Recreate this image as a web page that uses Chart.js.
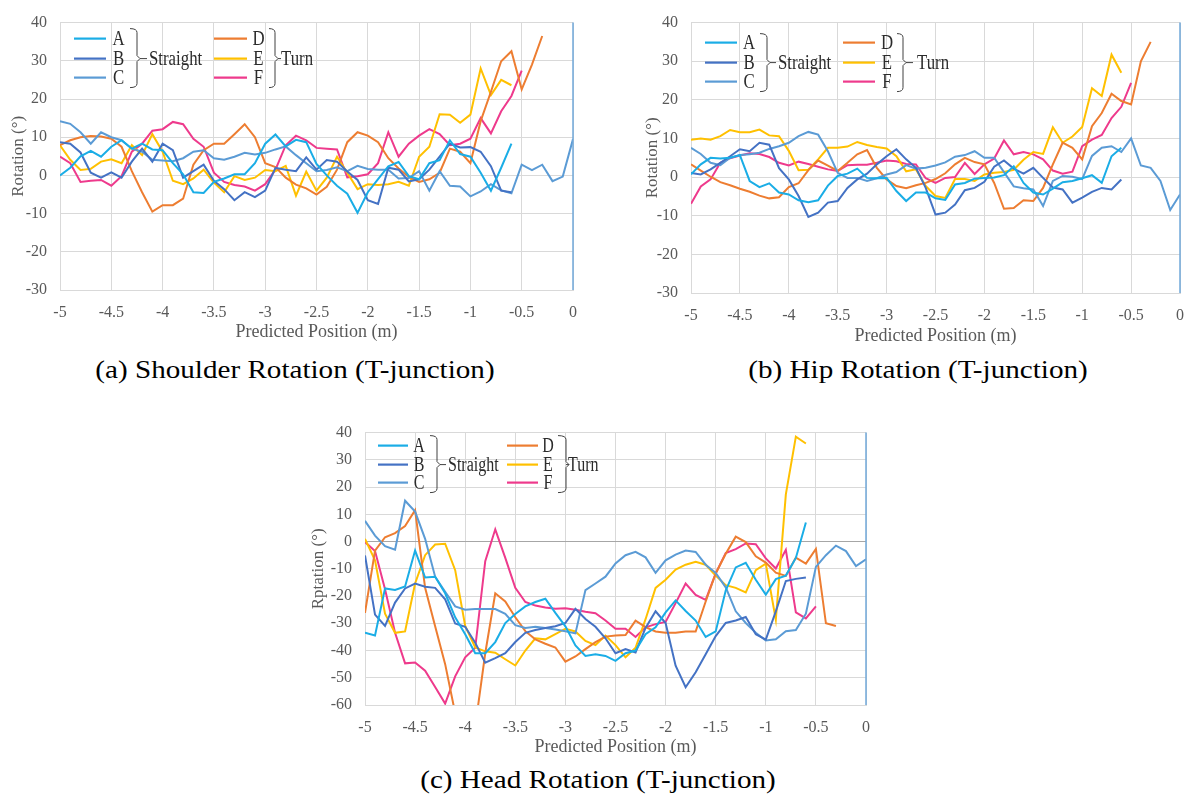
<!DOCTYPE html>
<html>
<head>
<meta charset="utf-8">
<script src="https://cdn.jsdelivr.net/npm/chart.js@4.4.1/dist/chart.umd.min.js"></script>
<style>
  html, body { margin: 0; padding: 0; background: #fff; }
  body { width: 1197px; height: 798px; position: relative; overflow: hidden; font-family: 'Liberation Serif', 'Times New Roman', serif; }
  .box { position: absolute; }
  .caption { position: absolute; font-size: 26px; line-height: 1; color: #000; white-space: nowrap; transform: translateX(-50%) scaleX(1.12); }
</style>
</head>
<body>
<div class="box" style="left:0;top:0;width:600px;height:345px"><canvas id="shoulderChart"></canvas></div>
<div class="box" style="left:600px;top:0;width:597px;height:349px"><canvas id="hipChart"></canvas></div>
<div class="box" style="left:290px;top:410px;width:600px;height:350px"><canvas id="headChart"></canvas></div>
<div class="caption" style="left:295px;top:357px">(a) Shoulder Rotation (T-junction)</div>
<div class="caption" style="left:918px;top:357px">(b) Hip Rotation (T-junction)</div>
<div class="caption" style="left:598px;top:767px">(c) Head Rotation (T-junction)</div>
<script>
// DATA
// ============================================================
const positions = [-5, -4.9, -4.8, -4.7, -4.6, -4.5, -4.4, -4.3, -4.2, -4.1, -4, -3.9, -3.8, -3.7, -3.6, -3.5, -3.4,
  -3.3, -3.2, -3.1, -3, -2.9, -2.8, -2.7, -2.6, -2.5, -2.4, -2.3, -2.2, -2.1, -2, -1.9, -1.8, -1.7, -1.6, -1.5, -1.4,
  -1.3, -1.2, -1.1, -1, -0.9, -0.8, -0.7, -0.6, -0.5, -0.4, -0.3, -0.2, -0.1, 0];
const seriesNames = ['A', 'B', 'C', 'D', 'E', 'F'];
const groupNames = ['Straight', 'Turn'];

// (a) shoulder rotation, degrees
const shoulderA = [0, 2, 5, 6.4, 4.9, 7.5, 9.2, 7, 8.3, 6.8, 6.6, 3.2, 0.3, -4.4, -4.6, -1.7, -0.8, 0.3, 0.3, 3.2, 8.3, 10.7, 7.6, 9.3, 8.7, 3, 0, -2.7, -4.8, -9.8, -4.4, -1, 2.4, 3.5, -0.2, -1, 3.2, 4, 9.2, 5.6, 4.9, 0.7, -4, 2, 8.3];
const shoulderB = [8.7, 8.3, 6, 0.7, -0.6, 0.8, -0.6, 3.6, 7, 3.6, 8.3, 6.6, -0.6, 1.1, 2.8, -1.4, -3.6, -6.5, -4.4, -5.7, -4, 2, 1.5, 1.1, 4.7, 1.5, 4, 3.6, 1, -1.2, -6.5, -7.5, 2, 1.5, -1.6, -1, 1.5, 4.9, 8.3, 7.3, 7.4, 6.2, 2.4, -4, -4.4];
const shoulderC = [14.2, 13.5, 11.3, 8.3, 11.3, 10, 9.2, 7, 6.2, 4.1, 3.9, 3.7, 4.5, 6.2, 6.6, 4.5, 4.1, 4.9, 5.9, 5.5, 5.9, 6.8, 7.6, 5.3, 3.2, 1.1, 1.4, 2.1, 1.1, 2.5, 1.7, 1.5, 1.5, -0.8, -0.7, 1.1, -4, 1.1, -2.7, -2.9, -5.5, -4.2, -2.3, -3.9, -4.7, 2.8, 1.4, 2.8, -1.5, -0.3, 9.5];
const shoulderD = [7.9, 9.2, 10, 10.3, 10.2, 9.6, 7.5, 1.1, -4.4, -9.5, -7.8, -7.8, -6.1, 2.8, 6.6, 8.3, 8.3, 10.8, 13.4, 10, 3.2, 2.2, -0.6, -2.4, -3.4, -5, -3, 1.5, 8.7, 11.3, 10.4, 8.7, 4.5, 1.8, -0.4, -1.7, -1, 0.7, 7, 6.2, 3.2, 14.2, 21.9, 29.9, 32.5, 22.5, 29, 36.5];
const shoulderE = [7.9, 4.1, 1.4, 1.7, 3.6, 4.2, 3.2, 7.9, 5.3, 10.8, 6.2, -1.4, -2.3, -0.8, 1.5, -1.9, -4.4, -0.2, -1.2, -0.6, 1.4, 1.1, 2.5, -5.3, 1, -4, -0.6, 4.9, 0.7, -3.6, -2.3, -2.5, -2.3, -1.7, -2.7, 4.9, 7.5, 16, 15.9, 13.8, 15.9, 28, 21, 25, 23.6];
const shoulderF = [4.9, 3.2, -1.7, -1.4, -1.2, -2.7, -0.2, 6.2, 8.3, 11.7, 12.1, 14, 13.4, 9.6, 7.5, 0.7, -1.7, -2.5, -2.9, -4, -2.3, 1.5, 7.9, 10.4, 9.2, 7.2, 7, 6.8, -0.5, -0.2, 0.3, 3.2, 11.3, 4.9, 8.3, 10.4, 12.1, 10.8, 7.9, 8.3, 9.6, 15, 11, 16.8, 20.8, 27.4];

// (b) hip rotation, degrees
const hipA = [0.7, 3.3, 5, 4.8, 5, 5.7, -1, -2.6, -1.6, -4, -4.5, -6, -6.5, -6, -2.2, 0.3, 0.9, 2.2, -0.2, -0.3, -0.2, -3.6, -6.2, -4, -4, -5.5, -5.9, -1.9, -1.5, -0.4, -0.2, -0.1, 0.5, 2.8, -1.5, -4, -4.5, -3, -1.3, -1, -0.3, 0.5, -1.5, 5.4, 7.6];
const hipB = [1.1, 0.7, 2, 3.7, 5.4, 7.2, 6.7, 8.9, 8.4, 2.3, -0.6, -4.9, -10.3, -9.2, -6.6, -6.2, -2.8, -0.6, 0.9, 3.3, 5.4, 7.2, 4.6, 2.4, -2.8, -9.7, -9.2, -7.1, -3.4, -2.8, -1.2, 2.7, 4.3, 2.2, 0.9, 2.4, -0.2, -2.7, -3.2, -6.6, -5.3, -3.8, -2.8, -3.2, -0.6];
const hipC = [7.6, 6, 3.7, 3.1, 5, 5.7, 5.9, 6.3, 7.3, 8, 8.9, 10.6, 11.7, 11, 6.7, 1.1, -0.2, -0.2, -1, -0.3, 0.7, 1.3, 3.1, 2.2, 2.4, 3, 3.8, 5.3, 5.7, 6.7, 5, 5, 1.3, -2.4, -2.9, -3.2, -7.5, -1, 0.3, 0.1, -0.5, 5.5, 7.6, 8, 6.5, 10, 3, 2.4, -1, -8.5, -4.5];
const hipD = [3.3, 1.7, 0.1, -1.3, -2.1, -3, -3.8, -4.8, -5.5, -5.2, -2.6, -1.6, 1.8, 4.3, 3, 1.6, 3.7, 5.9, 7, 2.4, -0.6, -2.3, -2.9, -2.1, -1.5, -0.5, 1, 3.3, 5, 3.9, 3.3, -1.5, -8.2, -8, -6, -6.2, -2.8, 3.3, 8.9, 7.6, 4.6, 13.2, 16.6, 21.6, 19.7, 18.8, 30, 35];
const hipE = [9.7, 10, 9.7, 10.6, 12.2, 11.6, 11.6, 12.3, 10.8, 10.6, 6.8, 1.8, 1.9, 4.6, 7.6, 7.6, 7.9, 9.1, 8.3, 7.8, 7.4, 5.4, 1.5, 2, -2.3, -4.9, -5.4, -0.5, -0.5, -1, 0.7, 1.1, 1.3, 1.9, 4.5, 6.5, 6, 12.9, 8.9, 10.5, 13, 23, 21, 31.7, 27];
const hipF = [-6.9, -2.4, -0.6, 3.7, 4.9, 5.6, 6.2, 6, 5.2, 3.7, 3, 4, 3.4, 2.7, 2, 1.6, 3.1, 3.2, 3.2, 3.7, 4.3, 4.1, 3.4, 3.3, -0.3, -1.5, -0.2, 0, 3.7, 0.8, 3.3, 4.8, 9.5, 5.9, 6.5, 5.9, 4.6, 1.7, 0.9, 1.4, 8, 9.7, 10.9, 15.3, 18.2, 24.4];

// (c) head rotation, degrees (D dips below the -60 floor and is clipped there)
const headA = [-33.5, -34.5, -17.2, -17.8, -16.5, -3.3, -13.2, -12.9, -19, -27.8, -34, -41, -41, -36.9, -29.9, -26.6, -23.8, -22.2, -21, -26.2, -31.1, -38.1, -42, -41.4, -42, -43.8, -41, -40, -34, -31.5, -26, -21.6, -25.5, -29, -35, -33, -18, -9.5, -7.8, -14, -19.5, -13.8, -12.5, -6, 7];
const headB = [-5.1, -26.8, -31, -22.4, -17.2, -15.4, -16.6, -17, -21.2, -30.1, -31.3, -37.1, -44.5, -42.8, -41, -36.9, -33.5, -32.5, -31.7, -31.1, -29.9, -24.7, -28.4, -31.3, -35.5, -41, -39.5, -40.7, -31.7, -25.6, -29.9, -45.6, -53.5, -48, -41.4, -34.7, -29.9, -29, -27.7, -34, -36, -25.6, -14.5, -13.7, -13.2];
const headC = [7.6, 2.2, -1.7, -3, 15, 11, 1, -12.9, -18.4, -23.8, -25, -24.8, -24.8, -24.8, -26.5, -30.7, -31.7, -31.3, -31.7, -32.3, -32.9, -33.7, -17.8, -15.4, -12.9, -8, -5, -3.8, -5.8, -11.5, -6.9, -4.8, -3.3, -3.8, -8.5, -11.5, -16.8, -25.6, -29.9, -33.5, -36.3, -35.9, -32.9, -32.5, -26.5, -9.3, -5, -1.5, -3.5, -9, -6.5];
const headD = [-26.2, -3.3, 1.6, 3.1, 5.7, 11.5, -17, -31.1, -45, -63, -75, -68, -41, -19, -22, -27.8, -32.9, -35.9, -37.5, -38.9, -44.1, -42.2, -39.5, -36.9, -34.9, -34.5, -34.3, -29, -31.4, -33, -33.5, -33.5, -33, -33, -22, -11.7, -4.5, 1.8, -0.2, -5.4, -7.7, -11.4, -12.6, -5.9, -8.1, -2.7, -30, -31];
const headE = [1, -6.9, -26.5, -33.5, -33, -15.4, -5, -1.1, -0.8, -10.5, -31, -38.9, -40.3, -40.8, -43.2, -45.5, -40, -35.5, -35.9, -34, -32, -33, -36.5, -38, -34.5, -38, -42.5, -39, -28.5, -17, -14, -10.3, -8.5, -7.4, -8.5, -12.5, -16, -17, -18.7, -10.5, -8.1, -28.7, 17.3, 38.5, 36];
const headF = [-0.2, -3.5, -17.5, -33.5, -44.7, -44.4, -47.4, -53.4, -59.5, -49.5, -42.5, -39, -7.2, 4.5, -6, -17, -22.2, -23.5, -24.2, -24.7, -24.5, -25, -25.8, -26.3, -29, -32, -32, -35, -31.5, -30.3, -29.5, -22.6, -15.4, -19.6, -21.4, -11.7, -4.2, -2.8, -0.7, -1, -6.2, -9.9, -3, -26, -28.2, -23.8];

// STYLE
// ============================================================
const seriesColors = ['#1AADE6', '#4472C4', '#5B9BD5', '#ED7D31', '#FFC000', '#EE3A8C'];
const GRID = '#d9d9d9';
Chart.defaults.font.family = "'Liberation Serif', 'Times New Roman', serif";
Chart.defaults.color = '#595959';

// condensed serif text, as in the pasted legend of the original figure
function narrowText(ctx, text, x, y, align) {
  ctx.save();
  ctx.translate(x, y);
  ctx.scale(0.8, 1);
  ctx.textAlign = align;
  ctx.fillText(text, 0, 0);
  ctx.restore();
}

// bracketed two-group legend drawn inside the plot
const bracketLegend = {
  id: 'bracketLegend',
  afterDatasetsDraw(chart, args, o) {
    const { ctx, chartArea: a } = chart;
    ctx.save();
    ctx.font = `${o.size}px 'Liberation Serif', serif`;
    ctx.textBaseline = 'middle';
    o.groups.forEach((g, gi) => {
      chart.data.datasets.slice(gi * 3, gi * 3 + 3).forEach((ds, r) => {
        const y = a.top + o.rows[r];
        ctx.strokeStyle = ds.borderColor;
        ctx.lineWidth = 2.2;
        ctx.beginPath();
        ctx.moveTo(a.left + g.line[0], y);
        ctx.lineTo(a.left + g.line[1], y);
        ctx.stroke();
        ctx.fillStyle = '#2b2b2b';
        narrowText(ctx, ds.label, a.left + g.label, y + 1, 'center');
      });
      const x0 = a.left + g.brace[0], x1 = a.left + g.brace[1];
      const y0 = a.top + o.braceY[0], y1 = a.top + o.braceY[1], ym = a.top + o.rows[1];
      ctx.strokeStyle = '#404040';
      ctx.lineWidth = 1;
      ctx.beginPath();
      ctx.moveTo(x0, y0);
      ctx.quadraticCurveTo(x1, y0, x1, y0 + 4);
      ctx.lineTo(x1, ym - 3);
      ctx.lineTo(x1 + 3, ym);
      ctx.lineTo(x1, ym + 3);
      ctx.lineTo(x1, y1 - 4);
      ctx.quadraticCurveTo(x1, y1, x0, y1);
      ctx.moveTo(x1 + 3, ym);
      ctx.lineTo(x1 + g.dash, ym);
      ctx.stroke();
      ctx.fillStyle = '#2b2b2b';
      narrowText(ctx, groupNames[gi], a.left + g.text, ym + 1, 'left');
    });
    ctx.restore();
  }
};

// blue line closing the plot on the right (x = 0)
const rightEdge = {
  id: 'rightEdge',
  afterDraw(chart) {
    const { ctx, chartArea: a } = chart;
    ctx.save();
    ctx.strokeStyle = '#70A8DA';
    ctx.lineWidth = 1.5;
    ctx.beginPath();
    ctx.moveTo(a.right, a.top);
    ctx.lineTo(a.right, a.bottom);
    ctx.stroke();
    ctx.restore();
  }
};

function makeDatasets(series) {
  return series.map((ys, k) => ({
    label: seriesNames[k],
    data: ys.map((v, i) => ({ x: positions[i], y: v })),
    borderColor: seriesColors[k],
    backgroundColor: seriesColors[k],
    borderWidth: 2,
    pointRadius: 0,
    tension: 0,
    fill: false
  }));
}

function buildChart(id, series, cfg) {
  return new Chart(document.getElementById(id), {
    type: 'line',
    data: { datasets: makeDatasets(series) },
    plugins: [bracketLegend, rightEdge],
    options: {
      responsive: true,
      maintainAspectRatio: false,
      animation: false,
      layout: { padding: cfg.padding },
      plugins: {
        legend: { display: false },
        tooltip: { enabled: false },
        bracketLegend: cfg.legend
      },
      scales: {
        x: {
          type: 'linear', min: -5, max: 0,
          afterFit: s => { s.height = cfg.xHeight; },
          ticks: {
            stepSize: 0.5, padding: 13, font: { size: 16 }, color: '#595959', maxRotation: 0, autoSkip: false,
            callback: v => String(Math.round(v * 10) / 10)
          },
          grid: { color: GRID, drawTicks: false },
          border: { color: GRID },
          title: { display: true, text: 'Predicted Position (m)', font: { size: 18 }, color: '#595959', padding: { top: 0, bottom: 2 } }
        },
        y: {
          min: cfg.yMin, max: cfg.yMax,
          afterFit: s => { s.width = cfg.yWidth; },
          ticks: { stepSize: 10, padding: 13, font: { size: 16 }, color: '#595959' },
          grid: { color: c => (cfg.zeroLine && c.tick && c.tick.value === 0) ? '#a6a6a6' : GRID, drawTicks: false },
          border: { color: GRID },
          title: { display: true, text: cfg.yTitle, font: { size: 17 }, color: '#595959', padding: { top: 4, bottom: 4 } }
        }
      }
    }
  });
}

buildChart('shoulderChart', [shoulderA, shoulderB, shoulderC, shoulderD, shoulderE, shoulderF], {
  padding: { left: 4, right: 27, top: 16, bottom: 0 }, yWidth: 56, xHeight: 55,
  yMin: -30, yMax: 40, yTitle: 'Rotation (°)', zeroLine: false,
  legend: {
    size: 21, rows: [16, 36, 55], braceY: [6, 65],
    groups: [
      { line: [14, 46], label: 58.5, brace: [70, 77], dash: 10, text: 89 },
      { line: [154, 187], label: 198.5, brace: [209, 215], dash: 6, text: 221 }
    ]
  }
});

buildChart('hipChart', [hipA, hipB, hipC, hipD, hipE, hipF], {
  padding: { left: 38, right: 5, top: 22, bottom: 0 }, yWidth: 53, xHeight: 56,
  yMin: -30, yMax: 40, yTitle: 'Rotation (°)', zeroLine: false,
  legend: {
    size: 21, rows: [20, 40, 59], braceY: [11, 69],
    groups: [
      { line: [14, 46], label: 58, brace: [69, 76], dash: 9, text: 87 },
      { line: [152, 184], label: 196, brace: [206, 212], dash: 10, text: 226 }
    ]
  }
});

buildChart('headChart', [headA, headB, headC, headD, headE, headF], {
  padding: { left: 14, right: 24, top: 18, bottom: 0 }, yWidth: 61, xHeight: 55,
  yMin: -60, yMax: 40, yTitle: 'Rptation (°)', zeroLine: true,
  legend: {
    size: 20, rows: [13, 32, 50], braceY: [3, 60],
    groups: [
      { line: [13, 43], label: 54, brace: [65, 72], dash: 9, text: 83 },
      { line: [142, 173], label: 183, brace: [193, 201], dash: 0, text: 203 }
    ]
  }
});
</script>
</body>
</html>
